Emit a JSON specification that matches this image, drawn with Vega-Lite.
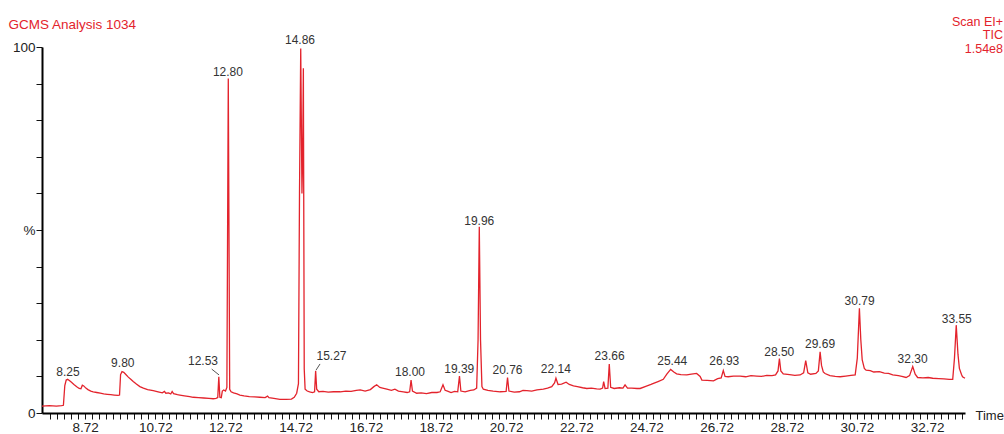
{
  "$schema": "https://vega.github.io/schema/vega-lite/v6.json",
  "width": 923,
  "height": 366,
  "autosize": "none",
  "padding": {"left": 42, "top": 47, "right": 39, "bottom": 21},
  "background": "white",
  "config": {"view": {"stroke": null}, "font": "Liberation Sans"},
  "title": {
    "text": ["Scan EI+", "TIC", "1.54e8"],
    "anchor": "end",
    "align": "right",
    "frame": "group",
    "color": "#e3232c",
    "font": "Liberation Sans",
    "fontSize": 12.5,
    "fontWeight": "normal",
    "lineHeight": 13.5,
    "dx": 38,
    "dy": 38,
    "offset": 0
  },
  "datasets": {
    "trace": [
      {"t": 7.49, "v": 1.9}, {"t": 7.7, "v": 2.0}, {"t": 7.9, "v": 1.9}, {"t": 8.05, "v": 2.0}, {"t": 8.1, "v": 2.1},
      {"t": 8.14, "v": 7.5}, {"t": 8.18, "v": 9.0}, {"t": 8.22, "v": 9.2}, {"t": 8.27, "v": 8.9}, {"t": 8.33, "v": 8.4},
      {"t": 8.4, "v": 7.8}, {"t": 8.48, "v": 7.2}, {"t": 8.55, "v": 6.7}, {"t": 8.6, "v": 6.6}, {"t": 8.64, "v": 7.6},
      {"t": 8.68, "v": 7.4}, {"t": 8.74, "v": 6.8}, {"t": 8.8, "v": 6.4}, {"t": 8.88, "v": 6.0}, {"t": 8.95, "v": 5.8},
      {"t": 9.05, "v": 5.6}, {"t": 9.15, "v": 5.4}, {"t": 9.25, "v": 5.2}, {"t": 9.35, "v": 5.1}, {"t": 9.45, "v": 5.0},
      {"t": 9.55, "v": 4.9}, {"t": 9.66, "v": 4.8}, {"t": 9.7, "v": 4.9}, {"t": 9.73, "v": 10.5}, {"t": 9.77, "v": 11.3},
      {"t": 9.82, "v": 11.1}, {"t": 9.88, "v": 10.5}, {"t": 9.95, "v": 9.8}, {"t": 10.02, "v": 9.2}, {"t": 10.09, "v": 8.6},
      {"t": 10.18, "v": 7.9}, {"t": 10.28, "v": 7.2}, {"t": 10.38, "v": 6.8}, {"t": 10.5, "v": 6.4}, {"t": 10.66, "v": 6.1},
      {"t": 10.8, "v": 5.8}, {"t": 10.92, "v": 5.5}, {"t": 10.98, "v": 5.9}, {"t": 11.02, "v": 5.4}, {"t": 11.1, "v": 5.5},
      {"t": 11.16, "v": 5.2}, {"t": 11.2, "v": 5.9}, {"t": 11.24, "v": 5.3}, {"t": 11.35, "v": 5.0}, {"t": 11.42, "v": 4.9},
      {"t": 11.55, "v": 4.7}, {"t": 11.7, "v": 4.5}, {"t": 11.8, "v": 4.3}, {"t": 11.95, "v": 4.2}, {"t": 12.1, "v": 4.1},
      {"t": 12.25, "v": 4.0}, {"t": 12.37, "v": 3.9}, {"t": 12.45, "v": 4.0}, {"t": 12.5, "v": 4.2}, {"t": 12.53, "v": 9.9},
      {"t": 12.56, "v": 4.3}, {"t": 12.6, "v": 4.2}, {"t": 12.63, "v": 6.0}, {"t": 12.67, "v": 6.3}, {"t": 12.72, "v": 6.0},
      {"t": 12.76, "v": 7.0}, {"t": 12.8, "v": 91.4}, {"t": 12.84, "v": 6.5}, {"t": 12.88, "v": 5.8}, {"t": 12.95, "v": 5.5},
      {"t": 13.05, "v": 5.2}, {"t": 13.13, "v": 4.9}, {"t": 13.25, "v": 4.7}, {"t": 13.4, "v": 4.5}, {"t": 13.55, "v": 4.4},
      {"t": 13.7, "v": 4.3}, {"t": 13.85, "v": 4.2}, {"t": 13.92, "v": 4.6}, {"t": 13.96, "v": 4.2}, {"t": 14.1, "v": 4.0},
      {"t": 14.27, "v": 3.7}, {"t": 14.45, "v": 3.7}, {"t": 14.6, "v": 3.8}, {"t": 14.68, "v": 4.3}, {"t": 14.75, "v": 5.4},
      {"t": 14.8, "v": 8.0}, {"t": 14.83, "v": 60}, {"t": 14.865, "v": 99.6}, {"t": 14.9, "v": 60}, {"t": 14.92, "v": 70},
      {"t": 14.94, "v": 94.2}, {"t": 14.965, "v": 12}, {"t": 14.99, "v": 6.5}, {"t": 15.05, "v": 6.0}, {"t": 15.12, "v": 5.8},
      {"t": 15.2, "v": 5.6}, {"t": 15.26, "v": 5.8}, {"t": 15.29, "v": 11.5}, {"t": 15.32, "v": 6.5}, {"t": 15.38, "v": 5.8},
      {"t": 15.5, "v": 5.9}, {"t": 15.65, "v": 5.7}, {"t": 15.8, "v": 5.8}, {"t": 15.99, "v": 5.8}, {"t": 16.15, "v": 6.0},
      {"t": 16.3, "v": 5.9}, {"t": 16.45, "v": 6.2}, {"t": 16.56, "v": 6.3}, {"t": 16.7, "v": 6.0}, {"t": 16.85, "v": 6.4},
      {"t": 16.95, "v": 7.2}, {"t": 17.03, "v": 7.7}, {"t": 17.12, "v": 7.0}, {"t": 17.2, "v": 6.8}, {"t": 17.32, "v": 6.5},
      {"t": 17.45, "v": 6.2}, {"t": 17.55, "v": 6.5}, {"t": 17.65, "v": 6.0}, {"t": 17.79, "v": 5.8}, {"t": 17.9, "v": 5.6},
      {"t": 17.97, "v": 5.8}, {"t": 18.01, "v": 9.0}, {"t": 18.05, "v": 6.0}, {"t": 18.17, "v": 5.4}, {"t": 18.3, "v": 5.5},
      {"t": 18.45, "v": 5.3}, {"t": 18.6, "v": 5.6}, {"t": 18.75, "v": 5.6}, {"t": 18.84, "v": 5.8}, {"t": 18.92, "v": 7.7},
      {"t": 18.98, "v": 6.2}, {"t": 19.05, "v": 6.0}, {"t": 19.15, "v": 5.6}, {"t": 19.25, "v": 5.9}, {"t": 19.34, "v": 5.8},
      {"t": 19.39, "v": 10.1}, {"t": 19.43, "v": 6.0}, {"t": 19.55, "v": 5.8}, {"t": 19.7, "v": 6.2}, {"t": 19.8, "v": 6.3},
      {"t": 19.88, "v": 6.8}, {"t": 19.92, "v": 20}, {"t": 19.955, "v": 50.9}, {"t": 19.99, "v": 20}, {"t": 20.03, "v": 7.2},
      {"t": 20.07, "v": 6.5}, {"t": 20.2, "v": 6.2}, {"t": 20.35, "v": 6.0}, {"t": 20.55, "v": 5.8}, {"t": 20.72, "v": 5.9},
      {"t": 20.76, "v": 9.7}, {"t": 20.8, "v": 6.0}, {"t": 20.95, "v": 5.7}, {"t": 21.1, "v": 5.8}, {"t": 21.2, "v": 6.2},
      {"t": 21.31, "v": 6.1}, {"t": 21.45, "v": 6.0}, {"t": 21.6, "v": 6.3}, {"t": 21.78, "v": 6.5}, {"t": 21.9, "v": 6.8},
      {"t": 22.02, "v": 7.2}, {"t": 22.1, "v": 8.2}, {"t": 22.14, "v": 9.5}, {"t": 22.2, "v": 7.8}, {"t": 22.3, "v": 7.9},
      {"t": 22.43, "v": 8.4}, {"t": 22.52, "v": 7.8}, {"t": 22.64, "v": 7.4}, {"t": 22.75, "v": 7.2}, {"t": 22.9, "v": 6.9},
      {"t": 23.02, "v": 6.7}, {"t": 23.15, "v": 6.8}, {"t": 23.3, "v": 6.6}, {"t": 23.4, "v": 6.5}, {"t": 23.47, "v": 6.8},
      {"t": 23.5, "v": 8.6}, {"t": 23.54, "v": 6.7}, {"t": 23.62, "v": 6.8}, {"t": 23.66, "v": 13.4}, {"t": 23.7, "v": 7.0},
      {"t": 23.8, "v": 6.7}, {"t": 23.95, "v": 6.9}, {"t": 24.05, "v": 6.8}, {"t": 24.11, "v": 7.7}, {"t": 24.18, "v": 6.8},
      {"t": 24.3, "v": 6.8}, {"t": 24.45, "v": 6.7}, {"t": 24.54, "v": 6.7}, {"t": 24.7, "v": 7.3}, {"t": 24.85, "v": 7.8},
      {"t": 24.92, "v": 8.1}, {"t": 25.05, "v": 8.6}, {"t": 25.2, "v": 9.2}, {"t": 25.3, "v": 10.6}, {"t": 25.41, "v": 11.9},
      {"t": 25.5, "v": 11.2}, {"t": 25.58, "v": 10.7}, {"t": 25.7, "v": 10.5}, {"t": 25.87, "v": 10.4}, {"t": 26.0, "v": 10.6},
      {"t": 26.15, "v": 10.8}, {"t": 26.25, "v": 10.0}, {"t": 26.3, "v": 9.0}, {"t": 26.45, "v": 8.9}, {"t": 26.63, "v": 8.8},
      {"t": 26.75, "v": 9.4}, {"t": 26.85, "v": 9.6}, {"t": 26.91, "v": 11.6}, {"t": 26.96, "v": 10.0}, {"t": 27.05, "v": 9.9},
      {"t": 27.2, "v": 10.1}, {"t": 27.39, "v": 10.1}, {"t": 27.55, "v": 9.9}, {"t": 27.7, "v": 10.2}, {"t": 27.86, "v": 10.1},
      {"t": 28.0, "v": 10.0}, {"t": 28.15, "v": 10.3}, {"t": 28.3, "v": 10.2}, {"t": 28.4, "v": 10.4}, {"t": 28.47, "v": 11.5},
      {"t": 28.51, "v": 14.9}, {"t": 28.55, "v": 11.5}, {"t": 28.62, "v": 10.7}, {"t": 28.8, "v": 10.5}, {"t": 28.95, "v": 10.3},
      {"t": 29.1, "v": 10.4}, {"t": 29.2, "v": 11.0}, {"t": 29.26, "v": 14.3}, {"t": 29.32, "v": 11.0}, {"t": 29.4, "v": 10.6},
      {"t": 29.55, "v": 10.8}, {"t": 29.62, "v": 11.5}, {"t": 29.67, "v": 16.7}, {"t": 29.71, "v": 13.0}, {"t": 29.76, "v": 11.2},
      {"t": 29.81, "v": 10.8}, {"t": 29.95, "v": 10.2}, {"t": 30.1, "v": 10.0}, {"t": 30.24, "v": 9.9}, {"t": 30.4, "v": 10.1},
      {"t": 30.55, "v": 10.3}, {"t": 30.67, "v": 10.4}, {"t": 30.73, "v": 15}, {"t": 30.79, "v": 28.6}, {"t": 30.83, "v": 20},
      {"t": 30.87, "v": 14.5}, {"t": 30.93, "v": 12.2}, {"t": 30.98, "v": 11.7}, {"t": 31.1, "v": 11.6}, {"t": 31.2, "v": 11.2},
      {"t": 31.36, "v": 11.3}, {"t": 31.5, "v": 10.9}, {"t": 31.62, "v": 10.8}, {"t": 31.74, "v": 10.4}, {"t": 31.9, "v": 10.2},
      {"t": 32.0, "v": 10.0}, {"t": 32.12, "v": 9.7}, {"t": 32.22, "v": 10.2}, {"t": 32.31, "v": 12.7}, {"t": 32.38, "v": 10.6},
      {"t": 32.45, "v": 9.7}, {"t": 32.6, "v": 9.6}, {"t": 32.75, "v": 9.7}, {"t": 32.88, "v": 9.5}, {"t": 33.05, "v": 9.4},
      {"t": 33.2, "v": 9.3}, {"t": 33.35, "v": 9.2}, {"t": 33.45, "v": 9.2}, {"t": 33.5, "v": 15}, {"t": 33.55, "v": 24.0},
      {"t": 33.6, "v": 16}, {"t": 33.64, "v": 12.2}, {"t": 33.7, "v": 10.5}, {"t": 33.73, "v": 9.9}, {"t": 33.8, "v": 9.5}
    ],
    "labels": [
      {"t": 8.231, "v": 11.1, "label": "8.25"},
      {"t": 9.793, "v": 13.7, "label": "9.80"},
      {"t": 12.08, "v": 14.3, "label": "12.53"},
      {"t": 12.79, "v": 93.3, "label": "12.80"},
      {"t": 14.845, "v": 101.9, "label": "14.86"},
      {"t": 15.743, "v": 15.6, "label": "15.27"},
      {"t": 17.98, "v": 11.1, "label": "18.00"},
      {"t": 19.383, "v": 11.9, "label": "19.39"},
      {"t": 19.953, "v": 52.5, "label": "19.96"},
      {"t": 20.76, "v": 11.7, "label": "20.76"},
      {"t": 22.137, "v": 11.9, "label": "22.14"},
      {"t": 23.67, "v": 15.6, "label": "23.66"},
      {"t": 25.455, "v": 14.3, "label": "25.44"},
      {"t": 26.937, "v": 14.3, "label": "26.93"},
      {"t": 28.505, "v": 16.7, "label": "28.50"},
      {"t": 29.668, "v": 18.8, "label": "29.69"},
      {"t": 30.794, "v": 30.7, "label": "30.79"},
      {"t": 32.305, "v": 14.7, "label": "32.30"},
      {"t": 33.564, "v": 25.7, "label": "33.55"}
    ],
    "leaders": [
      {"t": 12.327, "v": 12.0, "t2": 12.536, "v2": 10.4},
      {"t": 15.415, "v": 13.4, "t2": 15.3, "v2": 11.7}
    ]
  },
  "encoding": {
    "x": {
      "field": "t",
      "type": "quantitative",
      "scale": {"domain": [7.49, 33.8], "nice": false, "zero": false},
      "axis": {
        "values": [7.72,7.92,8.12,8.32,8.52,8.72,8.92,9.12,9.32,9.52,9.72,9.92,10.12,10.32,10.52,10.72,10.92,11.12,11.32,11.52,11.72,11.92,12.12,12.32,12.52,12.72,12.92,13.12,13.32,13.52,13.72,13.92,14.12,14.32,14.52,14.72,14.92,15.12,15.32,15.52,15.72,15.92,16.12,16.32,16.52,16.72,16.92,17.12,17.32,17.52,17.72,17.92,18.12,18.32,18.52,18.72,18.92,19.12,19.32,19.52,19.72,19.92,20.12,20.32,20.52,20.72,20.92,21.12,21.32,21.52,21.72,21.92,22.12,22.32,22.52,22.72,22.92,23.12,23.32,23.52,23.72,23.92,24.12,24.32,24.52,24.72,24.92,25.12,25.32,25.52,25.72,25.92,26.12,26.32,26.52,26.72,26.92,27.12,27.32,27.52,27.72,27.92,28.12,28.32,28.52,28.72,28.92,29.12,29.32,29.52,29.72,29.92,30.12,30.32,30.52,30.72,30.92,31.12,31.32,31.52,31.72,31.92,32.12,32.32,32.52,32.72,32.92,33.12,33.32,33.52,33.72],
        "labelExpr": "abs((datum.value - 8.72) / 2 - round((datum.value - 8.72) / 2)) < 0.01 ? format(datum.value, '.2f') : ''",
        "labelOverlap": false,
        "labelFlush": false,
        "labelFont": "Liberation Sans",
        "labelFontSize": 13.5,
        "labelColor": "#222222",
        "labelPadding": 1,
        "tickSize": 6,
        "tickColor": "#111111",
        "tickWidth": 1,
        "domainColor": "#000000",
        "domainWidth": 2,
        "grid": false,
        "title": "Time",
        "titleX": 933,
        "titleY": 2,
        "titleAlign": "left",
        "titleBaseline": "middle",
        "titleFont": "Liberation Sans",
        "titleFontSize": 13,
        "titleFontWeight": "normal",
        "titleColor": "#222222"
      }
    },
    "y": {
      "field": "v",
      "type": "quantitative",
      "scale": {"domain": [0, 100], "nice": false},
      "axis": {
        "values": [0, 10, 20, 30, 40, 50, 60, 70, 80, 90, 100],
        "labelExpr": "datum.value == 100 ? '100' : datum.value == 50 ? '%' : datum.value == 0 ? '0' : ''",
        "labelOverlap": false,
        "labelFlush": false,
        "labelFont": "Liberation Sans",
        "labelFontSize": 13.5,
        "labelColor": "#222222",
        "labelPadding": 1,
        "tickSize": 6,
        "tickColor": "#111111",
        "domainColor": "#000000",
        "domainWidth": 2,
        "grid": false,
        "title": "GCMS Analysis 1034",
        "titleAngle": 0,
        "titleX": -34,
        "titleY": -23,
        "titleAlign": "left",
        "titleBaseline": "middle",
        "titleFont": "Liberation Sans",
        "titleFontSize": 13.5,
        "titleFontWeight": "normal",
        "titleColor": "#e3232c"
      }
    }
  },
  "layer": [
    {
      "data": {"name": "trace"},
      "mark": {"type": "line", "color": "#e3232c", "strokeWidth": 1.3, "interpolate": "linear"}
    },
    {
      "data": {"name": "leaders"},
      "mark": {"type": "rule", "color": "#555555", "strokeWidth": 1},
      "encoding": {
        "x2": {"field": "t2"},
        "y2": {"field": "v2"}
      }
    },
    {
      "data": {"name": "labels"},
      "mark": {"type": "text", "font": "Liberation Sans", "fontSize": 12, "color": "#333333", "baseline": "middle", "align": "center"},
      "encoding": {
        "text": {"field": "label", "type": "nominal"}
      }
    }
  ]
}
